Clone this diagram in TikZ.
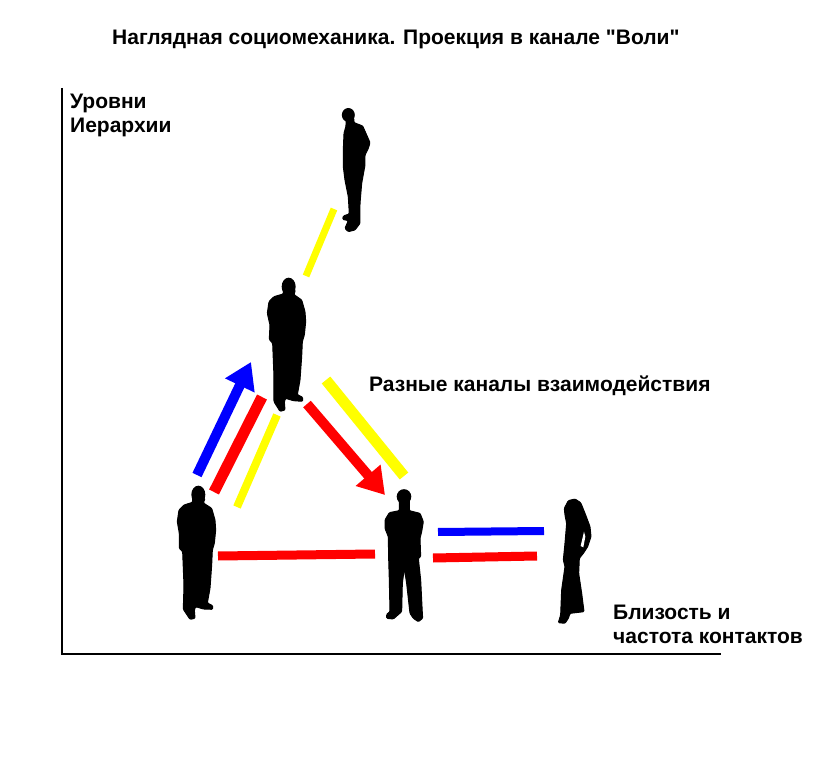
\documentclass[tikz,border=0pt]{standalone}
\usepackage{fontspec}
\setmainfont{Liberation Sans}[Ligatures=TeXOff]
\usetikzlibrary{arrows.meta}
\tikzset{
  bar/.style={line width=#1,line cap=butt},
  arrowbar/.style={line width=10pt,-{Triangle[length=26pt,width=31pt]}},
  label/.style={font=\bfseries\fontsize{21}{24}\selectfont,inner sep=0pt,anchor=west,align=left},
  silhouette/.style={fill=black,draw=black,line width=1pt,line join=round,rounded corners=1pt},
  zoomed/.style={x=0.3333pt,y=-0.3333pt}
}
\definecolor{barred}{RGB}{255,0,0}
\definecolor{barblue}{RGB}{0,0,255}
\definecolor{baryellow}{RGB}{255,255,0}
\begin{document}
\begin{tikzpicture}[x=1pt,y=-1pt]
\useasboundingbox (0,0) rectangle (828,767);
\fill[white] (0,0) rectangle (828,767);
% text
\node[label] (title) at (112,39.5) {Наглядная социомеханика. Проекция в канале "Воли"};
\node[label] (ylab) at (70,115) {Уровни\\Иерархии};
\node[label] (mid) at (369,385.5) {Разные каналы взаимодействия};
\node[label] (xlab) at (613,624) {Близость и\\частота контактов};
% axes
\coordinate (ytop) at (62,88);
\coordinate (orig) at (62,654);
\coordinate (xend) at (721,654);
\draw[line width=1.5pt] (ytop) -- (orig) -- (xend);
% bars
\coordinate (a1) at (334,209); \coordinate (a2) at (306,276);
\coordinate (b1) at (326,380); \coordinate (b2) at (404,476);
\coordinate (c1) at (262,397); \coordinate (c2) at (214,492);
\coordinate (d1) at (277,415); \coordinate (d2) at (237,507);
\coordinate (e1) at (218,556); \coordinate (e2) at (375,554);
\coordinate (f1) at (438,532); \coordinate (f2) at (544,531);
\coordinate (g1) at (433,558); \coordinate (g2) at (537,556);
\coordinate (h1) at (197,475); \coordinate (h2) at (251,362);
\coordinate (i1) at (307,404); \coordinate (i2) at (385,495);
\draw[baryellow,bar=7pt] (a1) -- (a2);
\draw[baryellow,bar=11pt] (b1) -- (b2);
\draw[barred,bar=11pt] (c1) -- (c2);
\draw[baryellow,bar=8pt] (d1) -- (d2);
\draw[barred,bar=9pt] (e1) -- (e2);
\draw[barblue,bar=8pt] (f1) -- (f2);
\draw[barred,bar=9pt] (g1) -- (g2);
\draw[barblue,arrowbar] (h1) -- (h2);
\draw[barred,arrowbar] (i1) -- (i2);
% top man, side view
\begin{scope}[shift={(320,90)},zoomed]
\fill (85,75) ellipse [x radius=6.5pt,y radius=7pt];
\fill[silhouette] (78,85) -- (102,85) -- (102,98) -- (128,108) -- (140,135) -- (150,158) -- (145,175) -- (135,195) -- (135,225) -- (125,280) -- (120,340) -- (120,400) -- (105,420) -- (85,425) -- (75,415) -- (85,392) -- (68,388) -- (70,378) -- (88,372) -- (85,320) -- (75,270) -- (70,230) -- (70,180) -- (72,130) -- (78,108) -- cycle;
\end{scope}
% middle man
\begin{scope}[shift={(250,270)},zoomed]
\fill (116,50) ellipse [x radius=7pt,y radius=9pt];
\fill[silhouette] (100,60) -- (136,60) -- (132,74) -- (155,90) -- (165,125) -- (167,155) -- (163,195) -- (157,215) -- (155,260) -- (150,330) -- (142,374) -- (158,382) -- (158,394) -- (130,392) -- (107,385) -- (103,395) -- (105,420) -- (90,424) -- (72,395) -- (72,320) -- (68,220) -- (58,208) -- (60,165) -- (52,130) -- (57,95) -- (72,80) -- (100,72) -- cycle;
\end{scope}
% lower left man
\begin{scope}[shift={(160,480)},zoomed]
\fill (115,44) ellipse [x radius=7pt,y radius=9pt];
\fill[silhouette] (98,55) -- (135,55) -- (130,69) -- (155,85) -- (165,120) -- (167,150) -- (163,190) -- (157,210) -- (155,255) -- (150,325) -- (142,369) -- (158,377) -- (158,388) -- (130,387) -- (107,380) -- (103,390) -- (105,415) -- (90,418) -- (70,388) -- (72,315) -- (68,215) -- (58,205) -- (58,160) -- (52,125) -- (57,90) -- (72,75) -- (98,67) -- cycle;
\end{scope}
% lower middle man, front view
\begin{scope}[shift={(370,480)},zoomed]
\fill (102,50) ellipse [x radius=7.3pt,y radius=7.5pt];
\fill[silhouette] (88,60) -- (118,60) -- (118,92) -- (150,100) -- (160,125) -- (155,155) -- (150,175) -- (152,230) -- (145,235) -- (152,300) -- (157,400) -- (158,415) -- (145,425) -- (130,415) -- (120,400) -- (110,310) -- (103,265) -- (97,310) -- (95,395) -- (70,417) -- (50,415) -- (50,403) -- (60,395) -- (58,300) -- (56,235) -- (55,170) -- (45,145) -- (45,120) -- (58,98) -- (88,92) -- cycle;
\end{scope}
% woman
\begin{scope}[shift={(540,490)},zoomed]
\fill[silhouette] (73,55) -- (85,32) -- (105,27) -- (122,38) -- (135,70) -- (150,110) -- (153,140) -- (143,170) -- (130,190) -- (118,205) -- (116,250) -- (125,310) -- (132,365) -- (90,370) -- (85,385) -- (75,400) -- (55,398) -- (62,375) -- (65,300) -- (75,230) -- (70,210) -- (75,160) -- (80,100) -- (75,75) -- cycle;
\fill[white] (132,125) -- (136,140) -- (130,172) -- (122,168) -- cycle;
\end{scope}
\end{tikzpicture}
\end{document}
